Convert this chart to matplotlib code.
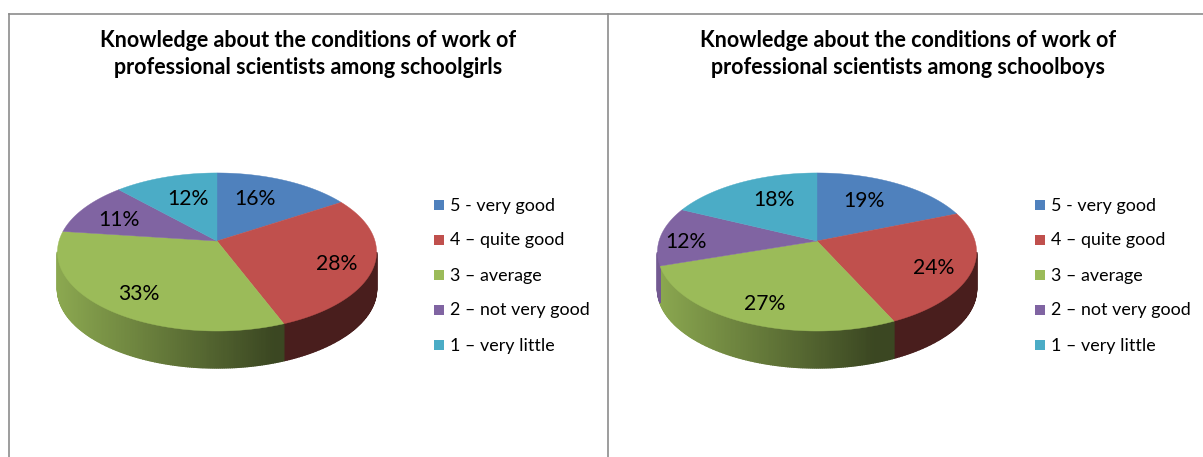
import matplotlib.pyplot as plt
from matplotlib.patches import Rectangle
import numpy as np

categories = ['5 - very good', '4 – quite good', '3 – average', '2 – not very good', '1 – very little']
girls = [16, 28, 33, 11, 12]
boys = [19, 24, 27, 12, 18]
title_girls = 'Knowledge about the conditions of work of\nprofessional scientists among schoolgirls'
title_boys = 'Knowledge about the conditions of work of\nprofessional scientists among schoolboys'
colors = ['#4f81bd', '#c0504d', '#9bbb59', '#8064a2', '#4bacc6']

plt.rcParams['font.family'] = ['Lato', 'DejaVu Sans']
W, H = 1203, 457
fig = plt.figure(figsize=(W / 100, H / 100), dpi=100)
ax = fig.add_axes([0, 0, 1, 1])
ax.set_xlim(0, W)
ax.set_ylim(H, 0)
ax.axis('off')

# tilted disc: circle seen through a simple perspective
RX, RY, K, DEPTH = 158, 77.5, 0.139, 37


def project(angle):
    u = np.sin(angle)
    v = np.cos(angle)
    w = 1 + K * v
    return RX * u / w, -RY * v / w


def shade(color, f):
    rgb = np.array(plt.matplotlib.colors.to_rgb(color))
    return tuple(rgb * f)


def draw_pie(cx, cy, values, label_pos):
    edges = np.cumsum([0] + values) / sum(values) * 2 * np.pi
    # outer wall first, only the front half shows
    for i, v in enumerate(values):
        t = np.linspace(edges[i], edges[i + 1], max(int(v * 6), 4))
        x, y = project(t)
        for j in range(len(t) - 1):
            if x[j + 1] >= x[j]:
                continue
            f = max(0.38, 0.9 - 0.55 * (x[j] + 160) / 230)
            ax.fill([cx + x[j], cx + x[j + 1], cx + x[j + 1], cx + x[j]],
                    [cy + y[j], cy + y[j + 1], cy + y[j + 1] + DEPTH, cy + y[j] + DEPTH],
                    color=shade(colors[i], f), lw=1.0)
    for i, v in enumerate(values):
        t = np.linspace(edges[i], edges[i + 1], 120)
        x, y = project(t)
        ax.fill(np.r_[cx, cx + x], np.r_[cy, cy + y], color=colors[i], lw=0.3)
    for v, (lx, ly) in zip(values, label_pos):
        ax.text(lx, ly, f'{v}%', fontsize=15.2, ha='center', va='center', color='black')


def draw_legend(x0):
    for i, name in enumerate(categories):
        y = 205 + i * 35
        ax.add_patch(Rectangle((x0, y - 5), 10, 10, color=colors[i], lw=0))
        ax.text(x0 + 16, y + 0.5, name, fontsize=12.9, ha='left', va='center', color='black')


draw_pie(217, 241, girls, [(255, 199), (337, 264), (139, 294), (119, 220), (188, 199)])
draw_pie(817, 241, boys, [(864, 201), (934, 268), (765, 304), (686, 242), (774, 200)])
draw_legend(434)
draw_legend(1035)

ax.text(308, 54, title_girls, fontsize=15.5, fontweight='bold', ha='center', va='center', linespacing=1.4)
ax.text(908, 54, title_boys, fontsize=15.5, fontweight='bold', ha='center', va='center', linespacing=1.4)

# chart frames
ax.plot([9, 9], [H, 14], color='#8c8c8c', lw=1.2)
ax.plot([9, W], [14, 14], color='#8c8c8c', lw=1.2)
ax.plot([608, 608], [14, H], color='#8c8c8c', lw=1.2)

fig.savefig('out.png', dpi=100)
